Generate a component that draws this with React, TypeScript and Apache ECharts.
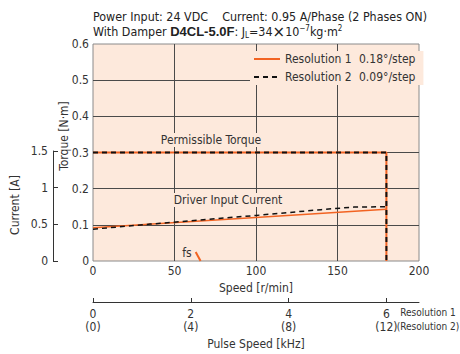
import React, { useEffect, useRef } from "react";
import * as echarts from "echarts";

const FONT = "'Liberation Sans Narrow','DejaVu Sans Condensed','Roboto',sans-serif";
const ORANGE = "#f26322";
const BG = "#fde9dc";
const GRID = "#4a4a4a";

const speedTicks = [0, 50, 100, 150, 200];
const torqueTicks = [0, 0.1, 0.2, 0.3, 0.4, 0.5, 0.6];
const currentTicks = [0, 0.5, 1, 1.5];
const pulseTicks = [0, 2, 4, 6];

// Torque [N·m] vs speed [r/min]
const torqueRes1: [number, number][] = [[0, 0.3], [180, 0.3], [180, 0]];
const torqueRes2: [number, number][] = [[0, 0.3], [180, 0.3], [180, 0]];
// Driver input current [A] vs speed [r/min]
const currentRes1: [number, number][] = [[0, 0.46], [180, 0.715]];
const currentRes2: [number, number][] = [[0, 0.44], [35, 0.51], [100, 0.63], [140, 0.71], [160, 0.745], [180, 0.75]];
// fs (starting frequency) mark
const fsLine: [number, number][] = [[63, 0.025], [66, 0]];

const legendNames = ["Resolution 1", "Resolution 2"];
const legendSteps = ["0.18°/step", "0.09°/step"];

export default function App() {
  const ref = useRef<HTMLDivElement>(null);
  useEffect(() => {
    if (!ref.current) return;
    const chart = echarts.init(ref.current, null, { renderer: "svg" });
    const txt = { fontFamily: FONT, fontSize: 12, color: "#333" };
    chart.setOption({
      animation: false,
      grid: [
        { left: 93, top: 44, width: 326, height: 217, show: true, backgroundColor: BG, borderColor: "#8a8a8a", borderWidth: 1 },
        { left: 53, top: 151, width: 1, height: 110 },
        { left: 93, top: 301, width: 326, height: 1 },
      ],
      xAxis: [
        {
          gridIndex: 0, type: "value", min: speedTicks[0], max: speedTicks[speedTicks.length - 1], interval: 50,
          axisLine: { show: false }, axisTick: { show: false },
          axisLabel: { ...txt, margin: 4 },
          splitLine: { show: true, showMinLine: false, showMaxLine: false, lineStyle: { color: GRID, width: 1 } },
          name: "Speed [r/min]", nameLocation: "middle", nameGap: 20, nameTextStyle: { ...txt },
        },
        { gridIndex: 1, type: "value", show: false, min: 0, max: 1 },
        {
          gridIndex: 2, type: "value", min: 0, max: 20 / 3, position: "bottom",
          axisLine: { show: true, lineStyle: { color: "#333", width: 1 } },
          axisTick: { show: true, inside: true, length: 4, customValues: pulseTicks, lineStyle: { color: "#333" } },
          axisLabel: { ...txt, lineHeight: 13, margin: 5, customValues: pulseTicks, formatter: (v: number) => `${v}\n(${v * 2})` },
          splitLine: { show: false },
          name: "Pulse Speed [kHz]", nameLocation: "middle", nameGap: 36, nameTextStyle: { ...txt },
        },
      ],
      yAxis: [
        {
          gridIndex: 0, type: "value", min: torqueTicks[0], max: torqueTicks[torqueTicks.length - 1], interval: 0.1,
          axisLine: { show: false }, axisTick: { show: false },
          axisLabel: { ...txt, margin: 4, formatter: (v: number) => (v === 0 ? "0" : v.toFixed(1)) },
          splitLine: { show: true, showMinLine: false, showMaxLine: false, lineStyle: { color: GRID, width: 1 } },
        },
        { gridIndex: 0, type: "value", min: 0, max: 3, show: false },
        {
          gridIndex: 1, type: "value", min: currentTicks[0], max: currentTicks[currentTicks.length - 1], interval: 0.5,
          axisLine: { show: true, lineStyle: { color: "#333", width: 1 } },
          axisTick: { show: true, inside: true, length: 5, lineStyle: { color: "#333" } },
          axisLabel: { ...txt, margin: 5 },
          splitLine: { show: false },
        },
        { gridIndex: 2, type: "value", show: false, min: 0, max: 1 },
      ],
      legend: {
        data: legendNames,
        orient: "vertical", left: 250, top: 51,
        padding: [2, 8, 2, 3], itemGap: 6, itemWidth: 26, itemHeight: 12,
        backgroundColor: BG,
        itemStyle: { opacity: 0 },
        formatter: (name: string) => `{a|${name}}{b|${legendSteps[legendNames.indexOf(name)]}}`,
        textStyle: { ...txt, rich: { a: { ...txt, width: 74 }, b: { ...txt } } },
      },
      series: [
        { name: "Resolution 1", type: "line", xAxisIndex: 0, yAxisIndex: 0, data: torqueRes1, symbol: "none", lineStyle: { color: ORANGE, width: 2 }, itemStyle: { color: ORANGE }, z: 3 },
        { name: "Resolution 2", type: "line", xAxisIndex: 0, yAxisIndex: 0, data: torqueRes2, symbol: "none", lineStyle: { color: "#111", width: 2, type: [5, 4] }, itemStyle: { color: "#111" }, z: 4 },
        { name: "Resolution 1", type: "line", xAxisIndex: 0, yAxisIndex: 1, data: currentRes1, symbol: "none", lineStyle: { color: ORANGE, width: 1.5 }, z: 3 },
        { name: "Resolution 2", type: "line", xAxisIndex: 0, yAxisIndex: 1, data: currentRes2, symbol: "none", lineStyle: { color: "#111", width: 1.5, type: [5, 4] }, z: 4 },
        { name: "fs", type: "line", xAxisIndex: 0, yAxisIndex: 0, data: fsLine, symbol: "none", lineStyle: { color: ORANGE, width: 2 }, z: 3 },
      ],
      graphic: [
        { type: "text", left: 93, top: 10, style: { text: "Power Input: 24 VDC    Current: 0.95 A/Phase (2 Phases ON)", font: `12.4px ${FONT}`, fill: "#222" } },
        {
          type: "text", left: 93, top: 24,
          style: {
            text: "{n|With Damper }{b|D4CL-5.0F}{n|: J}{s|L}{n|=34}{x|×}{n|10}{sup|−7}{n|kg·m}{sup|2}",
            fill: "#222",
            rich: {
              n: { fontFamily: FONT, fontSize: 12.4, color: "#222" },
              b: { fontFamily: "'Liberation Sans',sans-serif", fontSize: 13, fontWeight: "bold", color: "#222" },
              s: { fontFamily: FONT, fontSize: 8, color: "#222", verticalAlign: "bottom" },
              x: { fontFamily: "'DejaVu Sans',sans-serif", fontSize: 15, color: "#222" },
              sup: { fontFamily: FONT, fontSize: 8, color: "#222", verticalAlign: "top" },
            },
          },
        },
        { type: "text", x: 64, y: 136, rotation: Math.PI / 2, style: { text: "Torque [N·m]", font: `12px ${FONT}`, fill: "#333", align: "center", verticalAlign: "middle" } },
        { type: "text", x: 15, y: 205, rotation: Math.PI / 2, style: { text: "Current [A]", font: `12px ${FONT}`, fill: "#333", align: "center", verticalAlign: "middle" } },
        { type: "text", x: 211, y: 140, z: 10, style: { text: "Permissible Torque", font: `12px ${FONT}`, fill: "#333", align: "center", verticalAlign: "middle", backgroundColor: BG, padding: [1, 2] } },
        { type: "text", x: 228, y: 200, z: 10, style: { text: "Driver Input Current", font: `12px ${FONT}`, fill: "#333", align: "center", verticalAlign: "middle", backgroundColor: BG, padding: [1, 2] } },
        { type: "text", x: 187, y: 253, z: 10, style: { text: "fs", font: `12px ${FONT}`, fill: "#333", align: "center", verticalAlign: "middle" } },
        { type: "text", x: 428, y: 319, style: { text: "Resolution 1\n(Resolution 2)", font: `10px ${FONT}`, fill: "#333", align: "center", verticalAlign: "middle", lineHeight: 14 } },
      ],
    });
    return () => chart.dispose();
  }, []);
  return <div ref={ref} style={{ position: "absolute", left: 0, top: 0, width: 460, height: 354 }} />;
}
